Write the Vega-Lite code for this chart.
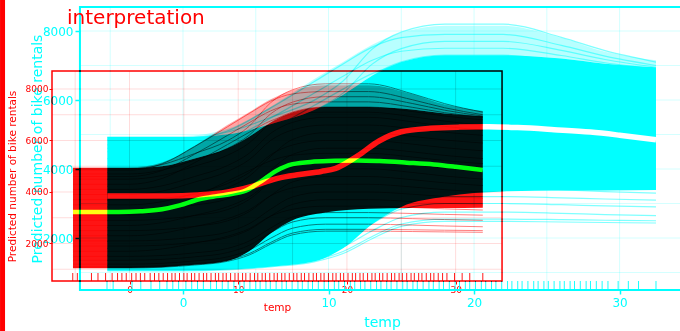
{
"$schema": "https://vega.github.io/schema/vega-lite/v6.json",
"width": 628, "height": 283,
"autosize": {"type": "none"},
"padding": {"left": 52, "top": 7, "right": 0, "bottom": 41},
"background": "white",
"title": {"text": "interpretation", "anchor": "start", "frame": "group", "color": "#ff0000", "fontSize": 20, "font": "DejaVu Sans", "fontWeight": "normal", "offset": -50, "dx": 15, "baseline": "alphabetic"},
"datasets": {
"one": [{"k": 1}],
"gx": [{"t": -5}, {"t": 0}, {"t": 5}, {"t": 10}, {"t": 15}, {"t": 20}, {"t": 25}, {"t": 30}],
"gy": [{"v": 1000}, {"v": 2000}, {"v": 3000}, {"v": 4000}, {"v": 5000}, {"v": 6000}, {"v": 7000}, {"v": 8000}],
"band": [{"t":-5.2,"lo":1050,"hi":4930,"top":4960},{"t":0,"lo":1050,"hi":4930,"top":4960},{"t":3,"lo":1080,"hi":5000,"top":5150},{"t":6,"lo":1170,"hi":5300,"top":5800},{"t":9,"lo":1320,"hi":5700,"top":6600},{"t":11,"lo":1700,"hi":6150,"top":7100},{"t":13,"lo":2400,"hi":6700,"top":7600},{"t":15,"lo":2900,"hi":7100,"top":7950},{"t":18,"lo":3200,"hi":7300,"top":8150},{"t":22,"lo":3350,"hi":7300,"top":8150},{"t":26,"lo":3380,"hi":7200,"top":7800},{"t":29,"lo":3380,"hi":7050,"top":7400},{"t":32.5,"lo":3390,"hi":6950,"top":7150}],
"pdp": [{"t":-5.2,"v":3220},{"t":-1,"v":3220},{"t":1,"v":3250},{"t":3,"v":3330},{"t":4.6,"v":3480},{"t":6.5,"v":3730},{"t":8,"v":3840},{"t":9.5,"v":3930},{"t":10.5,"v":4020},{"t":12,"v":4380},{"t":13.5,"v":4820},{"t":15,"v":5080},{"t":17,"v":5180},{"t":19,"v":5215},{"t":21,"v":5225},{"t":23,"v":5200},{"t":25.5,"v":5140},{"t":28,"v":5070},{"t":30,"v":4980},{"t":32.5,"v":4850}],
"rug": [{"t":-5.22},{"t":-4.8},{"t":-3.5},{"t":-2.9},{"t":-2.2},{"t":-1.6},{"t":-1.1},{"t":-0.7},{"t":-0.3},{"t":0.2},{"t":0.6},{"t":1.0},{"t":1.4},{"t":1.9},{"t":2.3},{"t":2.7},{"t":3.1},{"t":3.5},{"t":3.9},{"t":4.2},{"t":4.6},{"t":5.0},{"t":5.3},{"t":5.7},{"t":6.0},{"t":6.4},{"t":6.8},{"t":7.1},{"t":7.5},{"t":7.9},{"t":8.2},{"t":8.6},{"t":8.9},{"t":9.3},{"t":9.7},{"t":10.0},{"t":10.4},{"t":10.7},{"t":11.1},{"t":11.5},{"t":11.8},{"t":12.2},{"t":12.5},{"t":12.9},{"t":13.3},{"t":13.6},{"t":14.0},{"t":14.3},{"t":14.7},{"t":15.1},{"t":15.4},{"t":15.8},{"t":16.1},{"t":16.5},{"t":16.9},{"t":17.2},{"t":17.6},{"t":17.9},{"t":18.3},{"t":18.7},{"t":19.0},{"t":19.4},{"t":19.7},{"t":20.1},{"t":20.5},{"t":20.8},{"t":21.2},{"t":21.5},{"t":21.9},{"t":22.3},{"t":22.6},{"t":23.0},{"t":23.3},{"t":23.7},{"t":24.1},{"t":24.4},{"t":24.8},{"t":25.1},{"t":25.5},{"t":25.9},{"t":26.2},{"t":26.6},{"t":26.9},{"t":27.3},{"t":27.7},{"t":28.0},{"t":28.4},{"t":28.8},{"t":29.2},{"t":29.9},{"t":30.6},{"t":31.3},{"t":32.5}],
"curves": [
{"c":1,"t":-5.2,"v":4900},{"c":1,"t":0,"v":4900},{"c":1,"t":3,"v":5065},{"c":1,"t":6,"v":5494},{"c":1,"t":9,"v":5989},{"c":1,"t":11,"v":6550},{"c":1,"t":13,"v":7474},{"c":1,"t":15,"v":7969},{"c":1,"t":18,"v":8200},{"c":1,"t":22,"v":8200},{"c":1,"t":26,"v":7815},{"c":1,"t":29,"v":7430},{"c":1,"t":32.5,"v":7100},
{"c":2,"t":-5.2,"v":4850},{"c":2,"t":0,"v":4850},{"c":2,"t":3,"v":5094},{"c":2,"t":6,"v":5765},{"c":2,"t":9,"v":6528},{"c":2,"t":11,"v":7046},{"c":2,"t":13,"v":7534},{"c":2,"t":15,"v":7809},{"c":2,"t":18,"v":7900},{"c":2,"t":22,"v":7900},{"c":2,"t":26,"v":7585},{"c":2,"t":29,"v":7270},{"c":2,"t":32.5,"v":7000},
{"c":3,"t":-5.2,"v":4700},{"c":3,"t":0,"v":4700},{"c":3,"t":3,"v":4850},{"c":3,"t":6,"v":5240},{"c":3,"t":9,"v":5690},{"c":3,"t":11,"v":6200},{"c":3,"t":13,"v":7040},{"c":3,"t":15,"v":7490},{"c":3,"t":18,"v":7700},{"c":3,"t":22,"v":7700},{"c":3,"t":26,"v":7438},{"c":3,"t":29,"v":7175},{"c":3,"t":32.5,"v":6950},
{"c":4,"t":-5.2,"v":4600},{"c":4,"t":0,"v":4600},{"c":4,"t":3,"v":4832},{"c":4,"t":6,"v":5470},{"c":4,"t":9,"v":6195},{"c":4,"t":11,"v":6688},{"c":4,"t":13,"v":7152},{"c":4,"t":15,"v":7413},{"c":4,"t":18,"v":7500},{"c":4,"t":22,"v":7500},{"c":4,"t":26,"v":7290},{"c":4,"t":29,"v":7080},{"c":4,"t":32.5,"v":6900},
{"c":5,"t":-5.2,"v":4500},{"c":5,"t":0,"v":4500},{"c":5,"t":3,"v":4640},{"c":5,"t":6,"v":5004},{"c":5,"t":9,"v":5424},{"c":5,"t":11,"v":5900},{"c":5,"t":13,"v":6684},{"c":5,"t":15,"v":7104},{"c":5,"t":18,"v":7300},{"c":5,"t":22,"v":7300},{"c":5,"t":26,"v":7125},{"c":5,"t":29,"v":6950},{"c":5,"t":32.5,"v":6800},
{"c":6,"t":-5.2,"v":4300},{"c":6,"t":0,"v":4300},{"c":6,"t":3,"v":4524},{"c":6,"t":6,"v":5140},{"c":6,"t":9,"v":5840},{"c":6,"t":11,"v":6316},{"c":6,"t":13,"v":6764},{"c":6,"t":15,"v":7016},{"c":6,"t":18,"v":7100},{"c":6,"t":22,"v":7100},{"c":6,"t":26,"v":6925},{"c":6,"t":29,"v":6750},{"c":6,"t":32.5,"v":6600},
{"c":7,"t":-5.2,"v":4100},{"c":7,"t":0,"v":4100},{"c":7,"t":3,"v":4240},{"c":7,"t":6,"v":4604},{"c":7,"t":9,"v":5024},{"c":7,"t":11,"v":5500},{"c":7,"t":13,"v":6284},{"c":7,"t":15,"v":6704},{"c":7,"t":18,"v":6900},{"c":7,"t":22,"v":6900},{"c":7,"t":26,"v":6725},{"c":7,"t":29,"v":6550},{"c":7,"t":32.5,"v":6400},
{"c":8,"t":-5.2,"v":3900},{"c":8,"t":0,"v":3900},{"c":8,"t":3,"v":4035},{"c":8,"t":6,"v":4386},{"c":8,"t":9,"v":4791},{"c":8,"t":11,"v":5250},{"c":8,"t":13,"v":6006},{"c":8,"t":15,"v":6411},{"c":8,"t":18,"v":6600},{"c":8,"t":22,"v":6600},{"c":8,"t":26,"v":6460},{"c":8,"t":29,"v":6320},{"c":8,"t":32.5,"v":6200},
{"c":9,"t":-5.2,"v":3700},{"c":9,"t":0,"v":3700},{"c":9,"t":3,"v":3752},{"c":9,"t":6,"v":3908},{"c":9,"t":9,"v":4168},{"c":9,"t":11,"v":4610},{"c":9,"t":13,"v":5390},{"c":9,"t":15,"v":6040},{"c":9,"t":18,"v":6300},{"c":9,"t":22,"v":6300},{"c":9,"t":26,"v":6160},{"c":9,"t":29,"v":6020},{"c":9,"t":32.5,"v":5900},
{"c":10,"t":-5.2,"v":3500},{"c":10,"t":0,"v":3500},{"c":10,"t":3,"v":3625},{"c":10,"t":6,"v":3950},{"c":10,"t":9,"v":4325},{"c":10,"t":11,"v":4750},{"c":10,"t":13,"v":5450},{"c":10,"t":15,"v":5825},{"c":10,"t":18,"v":6000},{"c":10,"t":22,"v":6000},{"c":10,"t":26,"v":5860},{"c":10,"t":29,"v":5720},{"c":10,"t":32.5,"v":5600},
{"c":11,"t":-5.2,"v":3300},{"c":11,"t":0,"v":3300},{"c":11,"t":3,"v":3348},{"c":11,"t":6,"v":3492},{"c":11,"t":9,"v":3732},{"c":11,"t":11,"v":4140},{"c":11,"t":13,"v":4860},{"c":11,"t":15,"v":5460},{"c":11,"t":18,"v":5700},{"c":11,"t":22,"v":5700},{"c":11,"t":26,"v":5560},{"c":11,"t":29,"v":5420},{"c":11,"t":32.5,"v":5300},
{"c":12,"t":-5.2,"v":3100},{"c":12,"t":0,"v":3100},{"c":12,"t":3,"v":3292},{"c":12,"t":6,"v":3820},{"c":12,"t":9,"v":4420},{"c":12,"t":11,"v":4828},{"c":12,"t":13,"v":5212},{"c":12,"t":15,"v":5428},{"c":12,"t":18,"v":5500},{"c":12,"t":22,"v":5500},{"c":12,"t":26,"v":5360},{"c":12,"t":29,"v":5220},{"c":12,"t":32.5,"v":5100},
{"c":13,"t":-5.2,"v":2900},{"c":13,"t":0,"v":2900},{"c":13,"t":3,"v":2946},{"c":13,"t":6,"v":3084},{"c":13,"t":9,"v":3314},{"c":13,"t":11,"v":3705},{"c":13,"t":13,"v":4395},{"c":13,"t":15,"v":4970},{"c":13,"t":18,"v":5200},{"c":13,"t":22,"v":5200},{"c":13,"t":26,"v":5060},{"c":13,"t":29,"v":4920},{"c":13,"t":32.5,"v":4800},
{"c":14,"t":-5.2,"v":2700},{"c":14,"t":0,"v":2700},{"c":14,"t":3,"v":2810},{"c":14,"t":6,"v":3096},{"c":14,"t":9,"v":3426},{"c":14,"t":11,"v":3800},{"c":14,"t":13,"v":4416},{"c":14,"t":15,"v":4746},{"c":14,"t":18,"v":4900},{"c":14,"t":22,"v":4900},{"c":14,"t":26,"v":4760},{"c":14,"t":29,"v":4620},{"c":14,"t":32.5,"v":4500},
{"c":15,"t":-5.2,"v":2500},{"c":15,"t":0,"v":2500},{"c":15,"t":3,"v":2542},{"c":15,"t":6,"v":2668},{"c":15,"t":9,"v":2878},{"c":15,"t":11,"v":3235},{"c":15,"t":13,"v":3865},{"c":15,"t":15,"v":4390},{"c":15,"t":18,"v":4600},{"c":15,"t":22,"v":4600},{"c":15,"t":26,"v":4478},{"c":15,"t":29,"v":4355},{"c":15,"t":32.5,"v":4250},
{"c":16,"t":-5.2,"v":2300},{"c":16,"t":0,"v":2300},{"c":16,"t":3,"v":2400},{"c":16,"t":6,"v":2660},{"c":16,"t":9,"v":2960},{"c":16,"t":11,"v":3300},{"c":16,"t":13,"v":3860},{"c":16,"t":15,"v":4160},{"c":16,"t":18,"v":4300},{"c":16,"t":22,"v":4300},{"c":16,"t":26,"v":4195},{"c":16,"t":29,"v":4090},{"c":16,"t":32.5,"v":4000},
{"c":17,"t":-5.2,"v":2100},{"c":17,"t":0,"v":2100},{"c":17,"t":3,"v":2138},{"c":17,"t":6,"v":2252},{"c":17,"t":9,"v":2442},{"c":17,"t":11,"v":2765},{"c":17,"t":13,"v":3335},{"c":17,"t":15,"v":3810},{"c":17,"t":18,"v":4000},{"c":17,"t":22,"v":4000},{"c":17,"t":26,"v":3913},{"c":17,"t":29,"v":3825},{"c":17,"t":32.5,"v":3750},
{"c":18,"t":-5.2,"v":1900},{"c":18,"t":0,"v":1900},{"c":18,"t":3,"v":1936},{"c":18,"t":6,"v":2044},{"c":18,"t":9,"v":2224},{"c":18,"t":11,"v":2530},{"c":18,"t":13,"v":3070},{"c":18,"t":15,"v":3520},{"c":18,"t":18,"v":3700},{"c":18,"t":22,"v":3700},{"c":18,"t":26,"v":3630},{"c":18,"t":29,"v":3560},{"c":18,"t":32.5,"v":3500},
{"c":19,"t":-5.2,"v":1700},{"c":19,"t":0,"v":1700},{"c":19,"t":3,"v":1788},{"c":19,"t":6,"v":2015},{"c":19,"t":9,"v":2278},{"c":19,"t":11,"v":2575},{"c":19,"t":13,"v":3065},{"c":19,"t":15,"v":3328},{"c":19,"t":18,"v":3450},{"c":19,"t":22,"v":3450},{"c":19,"t":26,"v":3398},{"c":19,"t":29,"v":3345},{"c":19,"t":32.5,"v":3300},
{"c":20,"t":-5.2,"v":1500},{"c":20,"t":0,"v":1500},{"c":20,"t":3,"v":1534},{"c":20,"t":6,"v":1636},{"c":20,"t":9,"v":1806},{"c":20,"t":11,"v":2095},{"c":20,"t":13,"v":2605},{"c":20,"t":15,"v":3030},{"c":20,"t":18,"v":3200},{"c":20,"t":22,"v":3200},{"c":20,"t":26,"v":3165},{"c":20,"t":29,"v":3130},{"c":20,"t":32.5,"v":3100},
{"c":21,"t":-5.2,"v":1350},{"c":21,"t":0,"v":1350},{"c":21,"t":3,"v":1383},{"c":21,"t":6,"v":1482},{"c":21,"t":9,"v":1647},{"c":21,"t":11,"v":1928},{"c":21,"t":13,"v":2423},{"c":21,"t":15,"v":2835},{"c":21,"t":18,"v":3000},{"c":21,"t":22,"v":3000},{"c":21,"t":26,"v":2965},{"c":21,"t":29,"v":2930},{"c":21,"t":32.5,"v":2900},
{"c":22,"t":-5.2,"v":1200},{"c":22,"t":0,"v":1200},{"c":22,"t":3,"v":1231},{"c":22,"t":6,"v":1324},{"c":22,"t":9,"v":1479},{"c":22,"t":11,"v":1743},{"c":22,"t":13,"v":2208},{"c":22,"t":15,"v":2595},{"c":22,"t":18,"v":2750},{"c":22,"t":22,"v":2750},{"c":22,"t":26,"v":2715},{"c":22,"t":29,"v":2680},{"c":22,"t":32.5,"v":2650},
{"c":23,"t":-5.2,"v":1100},{"c":23,"t":0,"v":1100},{"c":23,"t":3,"v":1129},{"c":23,"t":6,"v":1216},{"c":23,"t":9,"v":1361},{"c":23,"t":11,"v":1608},{"c":23,"t":13,"v":2043},{"c":23,"t":15,"v":2405},{"c":23,"t":18,"v":2550},{"c":23,"t":22,"v":2550},{"c":23,"t":26,"v":2533},{"c":23,"t":29,"v":2515},{"c":23,"t":32.5,"v":2500},
{"c":24,"t":-5.2,"v":1050},{"c":24,"t":0,"v":1050},{"c":24,"t":3,"v":1079},{"c":24,"t":6,"v":1164},{"c":24,"t":9,"v":1307},{"c":24,"t":11,"v":1551},{"c":24,"t":13,"v":1980},{"c":24,"t":15,"v":2337},{"c":24,"t":18,"v":2480},{"c":24,"t":22,"v":2480},{"c":24,"t":26,"v":2464},{"c":24,"t":29,"v":2449},{"c":24,"t":32.5,"v":2435}
]
},
"layer": [
 {"data": {"name": "band"}, "mark": {"type": "area", "color": "#00ffff", "opacity": 1, "interpolate": "monotone"},
  "encoding": {
   "x": {"field": "t", "type": "quantitative", "scale": {"domain": [-9.0, 34.15], "nice": false, "zero": false},
     "axis": {"orient": "bottom", "offset": 0, "values": [0, 10, 20, 30], "domain": false, "grid": false, "tickColor": "#00ffff", "tickSize": 4, "tickWidth": 1.5, "labelColor": "#00ffff", "labelFontSize": 12, "labelPadding": 3, "title": "temp", "titleColor": "#00ffff", "titleFontSize": 14, "titleX": 330, "titleY": 32, "titleBaseline": "middle", "titleAlign": "center"}},
   "y": {"field": "lo", "type": "quantitative", "scale": {"domain": [493, 8696], "nice": false, "zero": false},
     "axis": {"orient": "left", "offset": -28, "values": [2000, 4000, 6000, 8000], "format": "d", "domain": false, "grid": false, "tickColor": "#00ffff", "tickSize": 5, "tickWidth": 1.5, "labelColor": "#00ffff", "labelFontSize": 12, "labelPadding": 2, "title": "Predicted number of bike rentals", "titleColor": "#00ffff", "titleFontSize": 14, "titleX": -43, "titleY": 141.5, "titleAngle": -90, "titleBaseline": "middle", "titleAlign": "center"}},
   "y2": {"field": "hi"}}},
 {"data": {"name": "band"}, "mark": {"type": "area", "color": "#00ffff", "opacity": 0.28, "interpolate": "monotone"},
  "encoding": {
   "x": {"field": "t", "type": "quantitative", "scale": {"domain": [-9.0, 34.15], "nice": false, "zero": false}, "axis": null},
   "y": {"field": "hi", "type": "quantitative", "scale": {"domain": [493, 8696], "nice": false, "zero": false}, "axis": null},
   "y2": {"field": "top"}}},
 {"data": {"name": "gx"}, "mark": {"type": "rule", "color": "#d4ffff", "strokeWidth": 1, "blend": "multiply"},
  "encoding": {
   "x": {"field": "t", "type": "quantitative", "scale": {"domain": [-9.0, 34.15], "nice": false, "zero": false}, "axis": null},
   "y": {"datum": 493, "type": "quantitative", "scale": {"domain": [493, 8696], "nice": false, "zero": false}, "axis": null},
   "y2": {"datum": 8696}}},
 {"data": {"name": "gy"}, "mark": {"type": "rule", "color": "#d4ffff", "strokeWidth": 1, "blend": "multiply"},
  "encoding": {
   "y": {"field": "v", "type": "quantitative", "scale": {"domain": [493, 8696], "nice": false, "zero": false}, "axis": null},
   "x": {"datum": -7.08, "type": "quantitative", "scale": {"domain": [-9.0, 34.15], "nice": false, "zero": false}, "axis": null},
   "x2": {"datum": 36}}},
 {"data": {"name": "curves"}, "mark": {"type": "line", "color": "#00ffff", "opacity": 0.5, "strokeWidth": 1.2, "interpolate": "monotone"},
  "encoding": {
   "x": {"field": "t", "type": "quantitative", "scale": {"domain": [-9.0, 34.15], "nice": false, "zero": false}, "axis": null},
   "y": {"field": "v", "type": "quantitative", "scale": {"domain": [493, 8696], "nice": false, "zero": false}, "axis": null},
   "detail": {"field": "c", "type": "nominal"}}},
 {"data": {"name": "pdp"}, "mark": {"type": "line", "color": "#ffffff", "strokeWidth": 5.5, "interpolate": "monotone"},
  "encoding": {
   "x": {"field": "t", "type": "quantitative", "scale": {"domain": [-9.0, 34.15], "nice": false, "zero": false}, "axis": null},
   "y": {"field": "v", "type": "quantitative", "scale": {"domain": [493, 8696], "nice": false, "zero": false}, "axis": null}}},
 {"data": {"name": "rug"}, "mark": {"type": "rule", "color": "#00ffff", "opacity": 0.9, "strokeWidth": 1},
  "encoding": {
   "x": {"field": "t", "type": "quantitative", "scale": {"domain": [-9.0, 34.15], "nice": false, "zero": false}, "axis": null},
   "y": {"datum": 493, "type": "quantitative", "scale": {"domain": [493, 8696], "nice": false, "zero": false}, "axis": null},
   "y2": {"datum": 754}}},
 {"data": {"name": "one"}, "mark": {"type": "rect", "fillOpacity": 0, "stroke": "#00ffff", "strokeWidth": 2},
  "encoding": {
   "x": {"datum": -7.08, "type": "quantitative", "scale": {"domain": [-9.0, 34.15], "nice": false, "zero": false}, "axis": null},
   "x2": {"datum": 36},
   "y": {"datum": 8696, "type": "quantitative", "scale": {"domain": [493, 8696], "nice": false, "zero": false}, "axis": null},
   "y2": {"datum": 493}}},
 {"data": {"name": "band"}, "mark": {"type": "area", "color": "#ff0000", "opacity": 0.92, "interpolate": "monotone", "blend": "multiply"},
  "encoding": {
   "x": {"field": "t", "type": "quantitative", "scale": {"domain": [-7.13, 50.64], "nice": false, "zero": false},
     "axis": {"orient": "bottom", "offset": -9, "values": [0, 10, 20, 30], "domain": false, "grid": false, "tickColor": "#ff0000", "tickSize": 3, "labelColor": "#ff0000", "labelFontSize": 9, "labelPadding": 1, "title": "temp", "titleColor": "#ff0000", "titleFontSize": 10.5, "titleX": 225, "titleY": 26, "titleBaseline": "middle", "titleAlign": "center"}},
   "y": {"field": "lo", "type": "quantitative", "scale": {"domain": [194, 11184], "nice": false, "zero": false},
     "axis": {"orient": "left", "offset": 0, "values": [2000, 4000, 6000, 8000], "format": "d", "domain": false, "grid": false, "tickColor": "#ff0000", "tickSize": 3, "labelColor": "#ff0000", "labelFontSize": 9, "labelPadding": 1, "title": "Predicted number of bike rentals", "titleColor": "#ff0000", "titleFontSize": 10.5, "titleX": -40, "titleY": 169, "titleAngle": -90, "titleBaseline": "middle", "titleAlign": "center"}},
   "y2": {"field": "hi"}}},
 {"data": {"name": "band"}, "mark": {"type": "area", "color": "#ff0000", "opacity": 0.35, "interpolate": "monotone", "blend": "multiply"},
  "encoding": {
   "x": {"field": "t", "type": "quantitative", "scale": {"domain": [-7.13, 50.64], "nice": false, "zero": false}, "axis": null},
   "y": {"field": "hi", "type": "quantitative", "scale": {"domain": [194, 11184], "nice": false, "zero": false}, "axis": null},
   "y2": {"field": "top"}}},
 {"data": {"name": "gx"}, "mark": {"type": "rule", "color": "#ffdcdc", "strokeWidth": 1, "blend": "multiply"},
  "encoding": {
   "x": {"field": "t", "type": "quantitative", "scale": {"domain": [-7.13, 50.64], "nice": false, "zero": false}, "axis": null},
   "y": {"datum": 544, "type": "quantitative", "scale": {"domain": [194, 11184], "nice": false, "zero": false}, "axis": null},
   "y2": {"datum": 8699}}},
 {"data": {"name": "gy"}, "mark": {"type": "rule", "color": "#ffdcdc", "strokeWidth": 1, "blend": "multiply"},
  "encoding": {
   "y": {"field": "v", "type": "quantitative", "scale": {"domain": [194, 11184], "nice": false, "zero": false}, "axis": null},
   "x": {"datum": -7.13, "type": "quantitative", "scale": {"domain": [-7.13, 50.64], "nice": false, "zero": false}, "axis": null},
   "x2": {"datum": 34.27}}},
 {"data": {"name": "curves"}, "mark": {"type": "line", "color": "#ff0000", "opacity": 0.5, "strokeWidth": 1, "interpolate": "monotone", "blend": "multiply"},
  "encoding": {
   "x": {"field": "t", "type": "quantitative", "scale": {"domain": [-7.13, 50.64], "nice": false, "zero": false}, "axis": null},
   "y": {"field": "v", "type": "quantitative", "scale": {"domain": [194, 11184], "nice": false, "zero": false}, "axis": null},
   "detail": {"field": "c", "type": "nominal"}}},
 {"data": {"name": "pdp"}, "mark": {"type": "line", "color": "#00ff00", "strokeWidth": 4.5, "interpolate": "monotone", "blend": "screen"},
  "encoding": {
   "x": {"field": "t", "type": "quantitative", "scale": {"domain": [-7.13, 50.64], "nice": false, "zero": false}, "axis": null},
   "y": {"field": "v", "type": "quantitative", "scale": {"domain": [194, 11184], "nice": false, "zero": false}, "axis": null}}},
 {"data": {"name": "rug"}, "mark": {"type": "rule", "color": "#ff0000", "opacity": 0.9, "strokeWidth": 1, "blend": "multiply"},
  "encoding": {
   "x": {"field": "t", "type": "quantitative", "scale": {"domain": [-7.13, 50.64], "nice": false, "zero": false}, "axis": null},
   "y": {"datum": 544, "type": "quantitative", "scale": {"domain": [194, 11184], "nice": false, "zero": false}, "axis": null},
   "y2": {"datum": 854}}},
 {"data": {"name": "one"}, "mark": {"type": "rect", "fillOpacity": 0, "stroke": "#ff0000", "strokeWidth": 1.5, "blend": "multiply"},
  "encoding": {
   "x": {"datum": -7.13, "type": "quantitative", "scale": {"domain": [-7.13, 50.64], "nice": false, "zero": false}, "axis": null},
   "x2": {"datum": 34.27},
   "y": {"datum": 8699, "type": "quantitative", "scale": {"domain": [194, 11184], "nice": false, "zero": false}, "axis": null},
   "y2": {"datum": 544}}},
 {"data": {"name": "one"}, "mark": {"type": "rule", "color": "#ff0000", "strokeWidth": 5},
  "encoding": {
   "x": {"datum": -11.68, "type": "quantitative", "scale": {"domain": [-7.13, 50.64], "nice": false, "zero": false}, "axis": null},
   "y": {"datum": 11600, "type": "quantitative", "scale": {"domain": [194, 11184], "nice": false, "zero": false}, "axis": null},
   "y2": {"datum": -1600}}}
],
"resolve": {"scale": {"x": "independent", "y": "independent"}, "axis": {"x": "independent", "y": "independent"}},
"config": {
 "font": "DejaVu Sans",
 "view": {"stroke": null},
 "axis": {"labelFont": "DejaVu Sans", "titleFont": "DejaVu Sans", "titleFontWeight": "normal"}
}
}
